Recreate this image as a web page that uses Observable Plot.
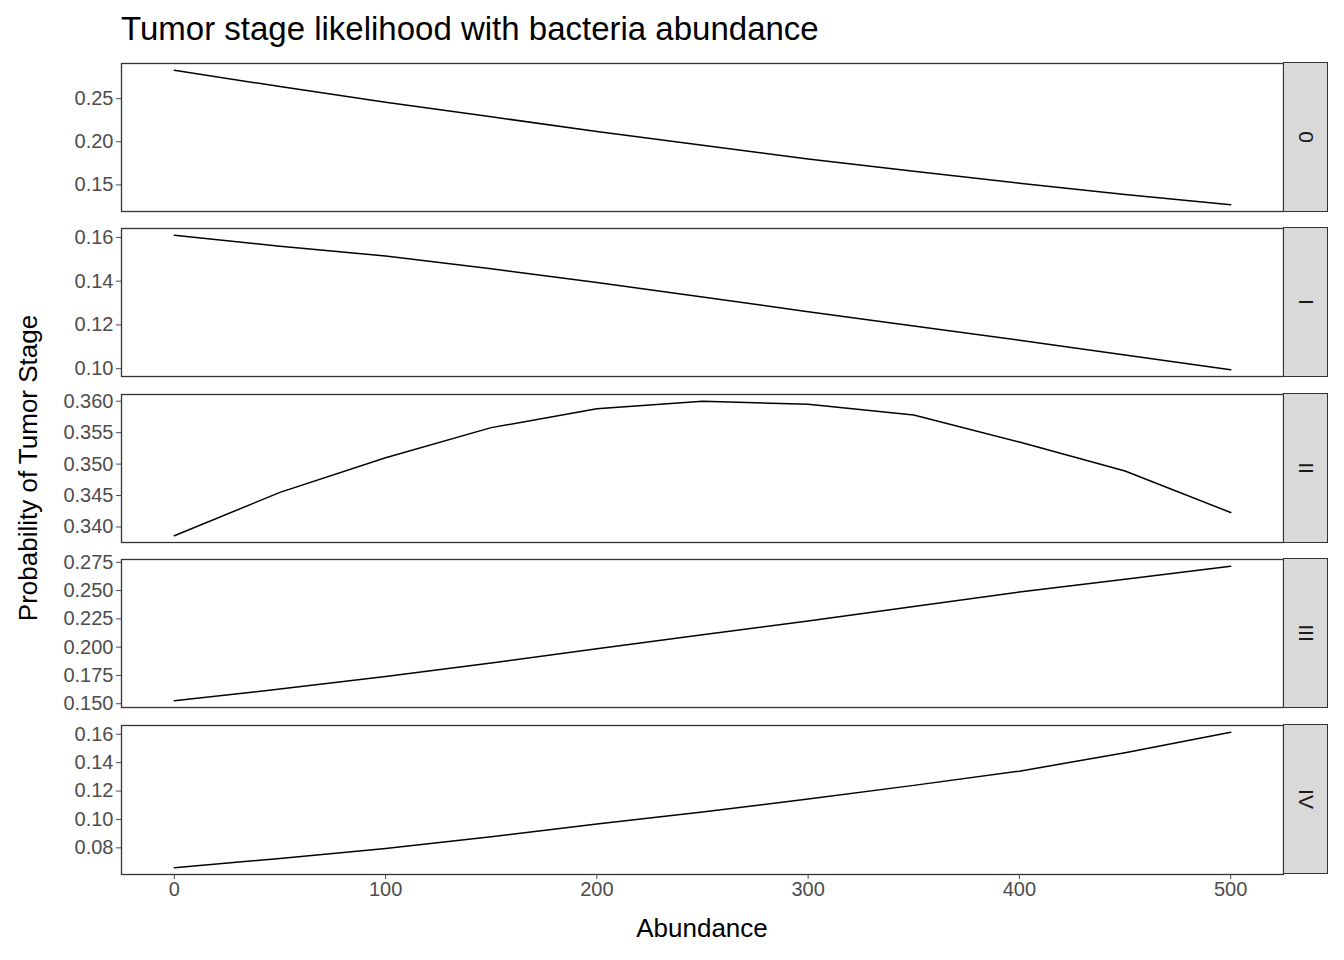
<!DOCTYPE html>
<html><head><meta charset="utf-8">
<script src="https://cdn.jsdelivr.net/npm/d3@7"></script>
<script src="https://cdn.jsdelivr.net/npm/@observablehq/plot@0.6"></script>
<style>
body{margin:0;background:#fff;font-family:"Liberation Sans",Arial,sans-serif;}
#wrap{position:relative;width:1344px;height:960px;}
.abs{position:absolute;}
svg.abs{overflow:visible;}
.strip{background:#d9d9d9;border:1px solid #333;box-sizing:border-box;display:flex;align-items:center;justify-content:center;}
.strip span{transform:rotate(90deg);font-size:21px;color:#1a1a1a;white-space:nowrap;}
</style></head><body>
<div id="wrap"></div>
<script>
const abundance = [0, 50, 100, 150, 200, 250, 300, 350, 400, 450, 500];
const stages = ["0", "I", "II", "III", "IV"];
const prob0   = [0.283, 0.264, 0.246, 0.229, 0.212, 0.196, 0.180, 0.166, 0.152, 0.139, 0.127];
const probI   = [0.161, 0.156, 0.1515, 0.1457, 0.1394, 0.1328, 0.126, 0.1195, 0.113, 0.1063, 0.0995];
const probII  = [0.3386, 0.3455, 0.3510, 0.3558, 0.3588, 0.3600, 0.3595, 0.3578, 0.3535, 0.3489, 0.3423];
const probIII = [0.1526, 0.163, 0.174, 0.186, 0.1985, 0.211, 0.223, 0.236, 0.2487, 0.260, 0.2715];
const probIV  = [0.066, 0.0725, 0.0795, 0.0878, 0.0968, 0.1053, 0.1144, 0.124, 0.134, 0.147, 0.1614];
const series = [prob0, probI, probII, probIII, probIV];
const yTicks = [
  [0.15, 0.20, 0.25],
  [0.10, 0.12, 0.14, 0.16],
  [0.340, 0.345, 0.350, 0.355, 0.360],
  [0.150, 0.175, 0.200, 0.225, 0.250, 0.275],
  [0.08, 0.10, 0.12, 0.14, 0.16]
];
const yFormats = [".2f", ".2f", ".3f", ".3f", ".2f"];
const xTicks = [0, 100, 200, 300, 400, 500];

const wrap = document.getElementById("wrap");
const tops = [62, 227, 393, 558, 724];
const panelH = 150;

function expand([a, b]) { const p = (b - a) * 0.05; return [a - p, b + p]; }

series.forEach((vals, i) => {
  const rows = abundance.map((x, j) => ({ x, y: vals[j] }));
  const last = i === series.length - 1;
  const plot = Plot.plot({
    width: 1283,
    height: panelH + (last ? 40 : 0),
    marginLeft: 121, marginRight: 0, marginTop: 1, marginBottom: last ? 40 : 1,
    style: { fontSize: "20px", fontFamily: "Liberation Sans, Arial, sans-serif", color: "#4d4d4d", background: "transparent", overflow: "visible" },
    x: { domain: expand([0, 500]), ticks: xTicks, tickFormat: d3.format("d"), label: null, axis: last ? "bottom" : null, tickSize: 5, tickPadding: 2 },
    y: { domain: expand(d3.extent(vals)), ticks: yTicks[i], tickFormat: d3.format(yFormats[i]), label: null, tickSize: 5, tickPadding: 3 },
    marks: [
      Plot.frame({ stroke: "#333", strokeWidth: 1.3 }),
      Plot.line(rows, { x: "x", y: "y", stroke: "#000", strokeWidth: 1.5 })
    ]
  });
  plot.classList.add("abs");
  plot.style.left = "0px";
  plot.style.top = tops[i] + "px";
  wrap.appendChild(plot);

  const strip = document.createElement("div");
  strip.className = "abs strip";
  strip.style.cssText += `left:1283px;top:${tops[i]}px;width:45px;height:${panelH}px;`;
  strip.innerHTML = `<span>${stages[i]}</span>`;
  wrap.appendChild(strip);
});

const title = document.createElement("div");
title.className = "abs";
title.style.cssText = "left:121px;top:10px;font-size:33px;color:#000;";
title.textContent = "Tumor stage likelihood with bacteria abundance";
wrap.appendChild(title);

const xl = document.createElement("div");
xl.className = "abs";
xl.style.cssText = "left:121px;width:1162px;top:913px;text-align:center;font-size:26px;color:#000;";
xl.textContent = "Abundance";
wrap.appendChild(xl);

const yl = document.createElement("div");
yl.className = "abs";
yl.style.cssText = "left:28px;top:468px;font-size:26px;color:#000;white-space:nowrap;transform:translate(-50%,-50%) rotate(-90deg);";
yl.textContent = "Probability of Tumor Stage";
wrap.appendChild(yl);
</script>
</body></html>
